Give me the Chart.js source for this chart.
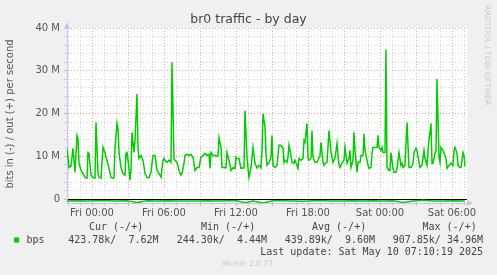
<!DOCTYPE html>
<html>
<head>
<meta charset="utf-8">
<script src="https://cdn.jsdelivr.net/npm/chart.js@4/dist/chart.umd.min.js"></script>
<style>
  html, body { margin: 0; padding: 0; background: #f0f0f0; }
  canvas { display: block; }
</style>
</head>
<body>
<canvas id="c" width="497" height="275"></canvas>
<script>
// minutes relative to Fri 00:00, out (+) traffic in Mbit/s
const outMinutes = [
  -125, -115, -105, -95, -85, -75, -70, -65, -55, -45, -35, -25, -20, -15, -5,
  5, 15, 20, 25, 30, 35, 45, 50, 55, 65, 70, 75, 85, 95, 105, 110, 115, 125, 130, 135,
  145, 155, 165, 170, 175, 185, 190, 195, 200, 210, 215, 225, 230, 235, 245, 255, 265,
  275, 285, 295, 305, 315, 320, 325, 335, 345, 355, 360, 365, 375, 385, 395, 400, 410,
  415, 425, 435, 445, 450, 460, 465, 475, 485, 495, 505, 515, 525, 535, 545, 555, 565,
  575, 585, 590, 595, 605, 615, 625, 630, 635, 645, 650, 660, 670, 675, 685, 695, 705,
  715, 720, 725, 735, 745, 755, 760, 765, 775, 780, 785, 795, 805, 810, 815, 825, 835,
  845, 850, 855, 865, 870, 875, 885, 895, 900, 905, 915, 925, 935, 945, 955, 960, 965,
  975, 980, 985, 995, 1000, 1010, 1015, 1025, 1030, 1035, 1045, 1055, 1060, 1065, 1075,
  1080, 1085, 1095, 1100, 1105, 1115, 1125, 1130, 1140, 1145, 1155, 1160, 1165, 1175,
  1185, 1195, 1205, 1210, 1215, 1225, 1235, 1240, 1250, 1260, 1265, 1275, 1285, 1290,
  1295, 1305, 1310, 1315, 1325, 1330, 1340, 1345, 1355, 1360, 1365, 1375, 1380, 1385,
  1395, 1400, 1405, 1415, 1425, 1430, 1435, 1445, 1450, 1455, 1465, 1470, 1475, 1485,
  1490, 1495, 1505, 1510, 1520, 1525, 1535, 1545, 1550, 1555, 1565, 1575, 1585, 1595,
  1605, 1610, 1620, 1625, 1635, 1640, 1650, 1660, 1665, 1675, 1680, 1685, 1695, 1700,
  1705, 1715, 1720, 1725, 1735, 1740, 1745, 1755, 1765, 1770, 1775, 1785, 1795, 1805,
  1810, 1815, 1825, 1830, 1840, 1845, 1855, 1860, 1865
];
const outMbps = [
  11.9, 7.4, 7.7, 11.9, 6.3, 14.9, 14.2, 8.4, 6.7, 6.0, 5.1, 4.9, 10.9, 10.7, 5.6,
  5.1, 4.9, 17.9, 12.0, 6.0, 5.1, 4.9, 8.6, 12.1, 10.9, 9.8, 9.1, 7.2, 5.1, 4.9, 5.0, 12.1, 17.7, 16.5, 10.9,
  7.4, 6.0, 5.6, 10.7, 10.9, 7.2, 4.44, 6.7, 15.6, 10.9, 13.7, 24.6, 12.0, 9.5, 10.2, 9.1, 6.0,
  5.1, 5.0, 6.3, 10.2, 10.2, 8.6, 6.7, 6.0, 5.1, 9.1, 9.5, 9.1, 8.6, 9.1, 8.6, 32.0, 9.5,
  9.1, 8.6, 6.7, 5.6, 6.0, 8.4, 10.2, 10.5, 10.2, 10.5, 9.8, 6.7, 7.4, 7.4, 9.8, 10.2, 10.7,
  10.2, 10.5, 7.2, 10.9, 10.2, 10.2, 10.0, 10.2, 14.4, 12.1, 7.4, 7.4, 7.3, 10.9, 9.1, 6.7, 7.3,
  7.2, 9.8, 9.5, 9.5, 7.2, 7.3, 7.3, 20.7, 9.8, 7.2, 5.1, 7.4, 12.1, 10.2, 8.4, 7.3, 7.9,
  7.3, 11.4, 20.0, 16.8, 10.7, 7.9, 8.6, 9.8, 14.9, 7.9, 7.4, 7.9, 12.6, 12.6, 11.9, 8.6, 9.1,
  8.6, 9.8, 12.6, 10.2, 8.6, 8.4, 9.1, 7.9, 7.2, 9.5, 9.1, 9.5, 13.7, 13.3, 17.7,
  9.5, 9.1, 9.5, 16.0, 9.8, 8.6, 8.6, 9.1, 10.2, 13.3, 8.6, 7.9, 8.4, 8.6,
  16.0, 10.9, 8.6, 9.1, 9.5, 13.0, 7.9, 7.4, 8.4, 9.1, 12.1, 8.4, 9.5, 11.4,
  7.4, 9.1, 15.6, 11.4, 6.3, 8.6, 8.6, 10.2, 10.2, 15.3, 11.4, 9.1, 7.9, 7.2,
  7.4, 10.7, 12.1, 12.1, 12.1, 14.9, 12.1, 11.4, 12.1, 10.9, 10.9, 34.96, 7.4, 6.7,
  6.7, 10.9, 7.2, 6.3, 6.3, 7.2, 10.9, 7.9, 8.4, 7.4, 7.9, 17.9, 7.4, 7.4,
  8.4, 10.9, 11.9, 11.4, 8.6, 7.4, 7.9, 11.4, 9.5, 7.9, 11.4, 13.7, 17.7, 8.4,
  8.4, 10.7, 11.4, 28.1, 9.8, 8.6, 12.1, 11.4, 10.2, 9.5, 7.2, 7.9, 8.4, 7.9,
  11.4, 12.1, 10.7, 7.9, 7.4, 7.4, 10.9, 10.2, 7.62
];
// in (-) traffic in kbit/s, drawn below zero
const inMinutes = [
  -125, -75, -25, 25, 75, 125, 175, 225, 275, 325, 375, 425, 475, 525, 575, 625, 675,
  725, 765, 805, 855, 905, 955, 1005, 1055, 1105, 1155, 1205, 1255, 1305, 1355, 1405,
  1455, 1505, 1555, 1605, 1655, 1705, 1755, 1805, 1865
];
const inKbps = [
  420, 380, 450, 400, 360, 430, 390, 780, 350, 410, 380, 440, 460, 420, 390, 430, 400,
  380, 820, 420, 907.85, 390, 360, 420, 470, 400, 380, 430, 410, 390, 440, 400,
  420, 380, 760, 410, 244.3, 450, 420, 390, 423.78
];

const yTicksMajor = 10;
const xLabelEvery = 360;
const dayNames = ['Thu', 'Fri', 'Sat'];

const title = 'br0 traffic - by day';
const yTitle = 'bits in (-) / out (+) per second';
const legendHeads = [['Cur (-/+)', 89], ['Min (-/+)', 201], ['Avg (-/+)', 312], ['Max (-/+)', 422.5]];
const legendVals = [['423.78k/  7.62M', 158.5], ['244.30k/  4.44M', 267], ['439.89k/  9.60M', 375], ['907.85k/ 34.96M', 483]];

const outPoints = outMinutes.map((m, i) => ({ x: m, y: outMbps[i] }));
const inPoints = inMinutes.map((m, i) => ({ x: m, y: -inKbps[i] / 1000 }));

const muninDecor = {
  id: 'muninDecor',
  beforeDraw(chart) {
    const { ctx, chartArea: a } = chart;
    ctx.save();
    ctx.fillStyle = '#f0f0f0';
    ctx.fillRect(0, 0, chart.width, chart.height);
    ctx.fillStyle = '#ffffff';
    ctx.fillRect(a.left, a.top, a.right - a.left, a.bottom - a.top);
    ctx.restore();
  },
  afterDraw(chart) {
    const { ctx, chartArea: a } = chart;
    ctx.save();
    // axis arrows
    ctx.fillStyle = '#c4c4f2';
    ctx.beginPath();
    ctx.moveTo(a.left - 3, a.top + 1);
    ctx.lineTo(a.left + 3, a.top + 1);
    ctx.lineTo(a.left, a.top - 6);
    ctx.fill();
    ctx.beginPath();
    ctx.moveTo(a.right, a.bottom - 3);
    ctx.lineTo(a.right, a.bottom + 3);
    ctx.lineTo(a.right + 6, a.bottom);
    ctx.fill();

    // title
    ctx.fillStyle = '#444';
    ctx.font = '12.5px "DejaVu Sans"';
    ctx.textAlign = 'center';
    ctx.textBaseline = 'alphabetic';
    ctx.fillText(title, chart.width / 2, 22.5);

    // y title
    ctx.save();
    ctx.translate(10.5, 114);
    ctx.rotate(-Math.PI / 2);
    ctx.font = '10px "DejaVu Sans"';
    ctx.fillStyle = '#555';
    ctx.textBaseline = 'middle';
    ctx.fillText(yTitle, 0, 0);
    ctx.restore();

    // watermark
    ctx.save();
    ctx.translate(487.5, 5);
    ctx.rotate(Math.PI / 2);
    ctx.font = '7.8px "DejaVu Sans"';
    ctx.fillStyle = '#c8c8c8';
    ctx.textAlign = 'left';
    ctx.textBaseline = 'middle';
    ctx.fillText('RRDTOOL / TOBI OETIKER', 0, 0);
    ctx.restore();

    // legend
    ctx.font = '10px "DejaVu Sans Mono"';
    ctx.fillStyle = '#444';
    ctx.textBaseline = 'middle';
    ctx.textAlign = 'left';
    legendHeads.forEach(([t, x]) => ctx.fillText(t, x, 227.5));
    ctx.fillStyle = '#00cc00';
    ctx.fillRect(14, 237.5, 5, 5);
    ctx.fillStyle = '#444';
    ctx.fillText('bps', 26.5, 240);
    ctx.textAlign = 'right';
    legendVals.forEach(([t, x]) => ctx.fillText(t, x, 240));
    ctx.fillText('Last update: Sat May 10 07:10:19 2025', 483, 252);

    ctx.font = '7.7px "DejaVu Sans"';
    ctx.fillStyle = '#c8c8c8';
    ctx.textAlign = 'center';
    ctx.fillText('Munin 2.0.73', 248, 264);
    ctx.restore();
  }
};

new Chart(document.getElementById('c'), {
  type: 'line',
  data: {
    datasets: [
      {
        label: 'bps out',
        data: outPoints,
        borderColor: '#00cc00',
        borderWidth: 1.5,
        pointRadius: 0,
        tension: 0
      },
      {
        label: 'bps in',
        data: inPoints,
        borderColor: '#00cc00',
        borderWidth: 1.5,
        pointRadius: 0,
        tension: 0
      }
    ]
  },
  options: {
    responsive: false,
    animation: false,
    devicePixelRatio: 1,
    layout: { padding: { top: 28, right: 30, bottom: 52, left: 0 } },
    plugins: { legend: { display: false }, tooltip: { enabled: false }, title: { display: false } },
    scales: {
      x: {
        type: 'linear',
        min: -125,
        max: 1875,
        afterFit: s => { s.height = 20; },
        border: {
          color: '#c4c4f2',
          dash: ctx => [1, 2]
        },
        grid: {
          color: ctx => (ctx.tick.value % 180 === 0 ? '#e3a8a8' : '#d2d2d2'),
          tickColor: ctx => (ctx.tick.value % 180 === 0 ? '#e3a8a8' : '#d2d2d2'),
          tickLength: 3,
          lineWidth: 1
        },
        ticks: {
          stepSize: 60,
          includeBounds: false,
          autoSkip: false,
          maxRotation: 0,
          padding: 1,
          color: '#555',
          font: { family: 'DejaVu Sans', size: 10 },
          callback: v => {
            if (v % xLabelEvery !== 0) return '';
            const day = dayNames[Math.floor(v / 1440) + 1];
            const h = ((v % 1440) + 1440) % 1440 / 60;
            return day + ' ' + String(h).padStart(2, '0') + ':00';
          }
        }
      },
      y: {
        type: 'linear',
        min: -0.9,
        max: 40,
        afterFit: s => { s.width = 67; },
        border: {
          color: '#c4c4f2',
          dash: ctx => (ctx.tick && ctx.tick.value === 0 ? [] : [1, 2])
        },
        grid: {
          color: ctx => {
            const v = ctx.tick.value;
            if (v === 0) return '#000000';
            return v % yTicksMajor === 0 ? '#e3a8a8' : '#d2d2d2';
          },
          tickColor: ctx => (ctx.tick.value % yTicksMajor === 0 ? '#e3a8a8' : '#d2d2d2'),
          tickLength: 3,
          lineWidth: 1
        },
        ticks: {
          stepSize: 2,
          includeBounds: false,
          autoSkip: false,
          padding: 4,
          color: '#555',
          font: { family: 'DejaVu Sans', size: 10 },
          callback: v => {
            if (v % yTicksMajor !== 0) return '';
            return v === 0 ? '0' : v + ' M';
          }
        }
      }
    }
  },
  plugins: [muninDecor]
});
</script>
</body>
</html>
